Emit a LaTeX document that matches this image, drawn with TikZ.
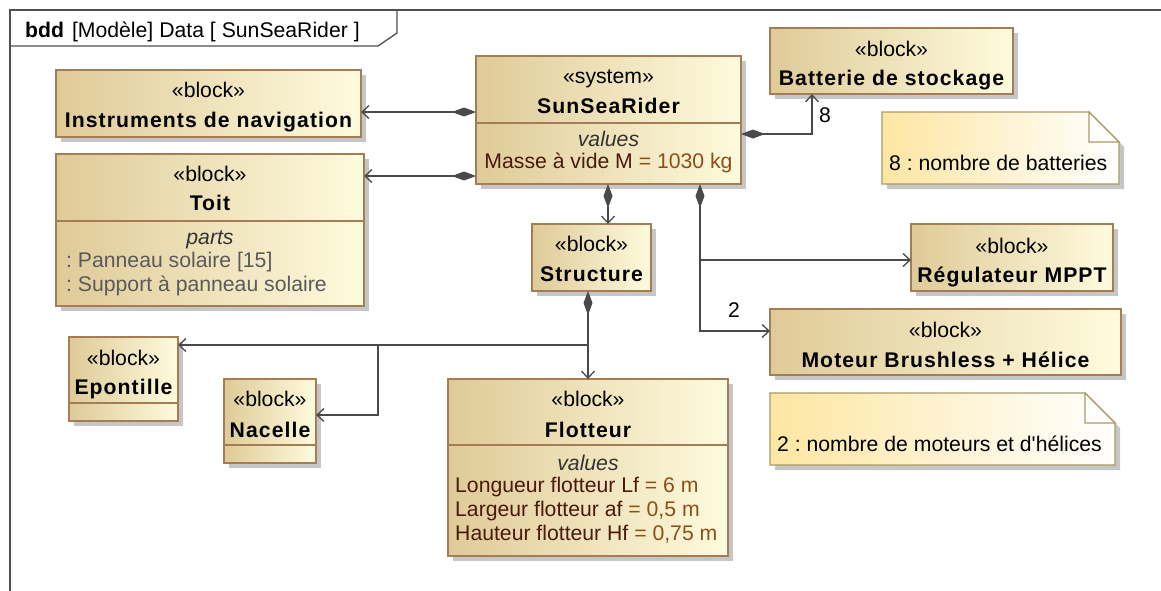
\documentclass[tikz,border=0pt]{standalone}
\usepackage{fontspec}
\setmainfont{Liberation Sans}
\newfontfamily\nmfont{Liberation Sans}[LetterSpace=5]
\usetikzlibrary{arrows.meta,shadows}
\definecolor{blkL}{HTML}{DFCA98}
\definecolor{blkR}{HTML}{FEFBDD}
\definecolor{blkB}{HTML}{A47C56}
\definecolor{noteL}{HTML}{FDE6A2}
\definecolor{noteB}{HTML}{A89A66}
\definecolor{lnC}{HTML}{4A4A4A}
\definecolor{frmC}{HTML}{505050}
\definecolor{valN}{HTML}{4A1A0C}
\definecolor{valV}{HTML}{8E4E16}
\definecolor{partC}{HTML}{5A5A5A}
\definecolor{shd}{HTML}{C6C6C6}
\frenchspacing
\begin{document}
\begin{tikzpicture}[x=1pt,y=-1pt,
  blk/.style={draw=blkB, line width=1.3pt, left color=blkL, right color=blkR,
    inner sep=0pt, outer sep=0pt, anchor=north west,
    drop shadow={shadow xshift=5pt, shadow yshift=-5pt, fill=shd, opacity=1}},
  sepl/.style={draw=blkB, line width=1.3pt},
  txt/.style={font=\fontsize{21.2}{25}\selectfont, inner sep=0pt, anchor=base},
  nm/.style={font=\fontsize{21.2}{25}\selectfont\nmfont\bfseries, inner sep=0pt, anchor=base},
  ital/.style={txt, font=\fontsize{21.2}{25}\selectfont\itshape, text=black!80},
  conn/.style={draw=lnC, line width=1.3pt},
  comp/.style={conn, {Diamond[length=24pt,width=9pt]}-{Straight Barb[length=7pt,width=13pt]}},
  diaonly/.style={conn, {Diamond[length=24pt,width=9pt]}-},
  arronly/.style={conn, -{Straight Barb[length=7pt,width=13pt]}},
  notestyle/.style={left color=noteL, right color=white, draw=noteB, line width=1.3pt}
]
\useasboundingbox (0,0) rectangle (1161,590);
\fill[white] (0,0) rectangle (1161,590);

% frame
\draw[frmC, line width=1.3pt] (10,592) -- (10,10) -- (1163,10);
\draw[frmC, line width=1.3pt] (10,46) -- (378,46) -- (397,33) -- (397,10);
\node[txt, anchor=base west] (title) at (25,37) {\textbf{bdd}\hspace{8pt}[Modèle]\hspace{6pt}Data [ SunSeaRider ]};

% blocks
\node[blk, minimum width=305pt, minimum height=67pt] (inst) at (56,70) {};
\node[txt] (inst-s) at (208.5,97) {«block»};
\node[nm] (inst-n) at (208.5,127) {Instruments de navigation};

\node[blk, minimum width=308pt, minimum height=152pt] (toit) at (56,154) {};
\draw[sepl] (toit.west |- 0,221) -- (toit.east |- 0,221);
\node[txt] (toit-s) at (210,181) {«block»};
\node[nm] (toit-n) at (210,210) {Toit};
\node[ital] (toit-p) at (210,244) {parts};
\node[txt, anchor=base west, text=partC] (toit-p1) at (66,267) {: Panneau solaire [15]};
\node[txt, anchor=base west, text=partC] (toit-p2) at (66,291) {: Support à panneau solaire};

\node[blk, minimum width=265pt, minimum height=128pt] (sun) at (476,56) {};
\draw[sepl] (sun.west |- 0,123) -- (sun.east |- 0,123);
\node[txt] (sun-s) at (608.5,83) {«system»};
\node[nm] (sun-n) at (608.5,113) {SunSeaRider};
\node[ital] (sun-v) at (608.5,146) {values};
\node[txt] (sun-v1) at (608.5,168) {\color{valN}Masse à vide M \color{valV}= 1030 kg};

\node[blk, minimum width=243pt, minimum height=66pt] (bat) at (770,28) {};
\node[txt] (bat-s) at (891.5,56) {«block»};
\node[nm] (bat-n) at (891.5,85) {Batterie de stockage};

\node[blk, minimum width=202pt, minimum height=67pt] (reg) at (911,224) {};
\node[txt] (reg-s) at (1012,253) {«block»};
\node[nm] (reg-n) at (1012,282) {Régulateur MPPT};

\node[blk, minimum width=119pt, minimum height=67pt] (struc) at (532,224) {};
\node[txt] (struc-s) at (591.5,251) {«block»};
\node[nm] (struc-n) at (591.5,281) {Structure};

\node[blk, minimum width=351pt, minimum height=66pt] (mot) at (770,309) {};
\node[txt] (mot-s) at (945.5,337) {«block»};
\node[nm] (mot-n) at (945.5,367) {Moteur Brushless + Hélice};

\node[blk, minimum width=109pt, minimum height=84pt] (epo) at (69,337) {};
\draw[sepl] (epo.west |- 0,403) -- (epo.east |- 0,403);
\node[txt] (epo-s) at (123.5,365) {«block»};
\node[nm] (epo-n) at (123.5,394) {Epontille};

\node[blk, minimum width=92pt, minimum height=84pt] (nac) at (224,379) {};
\draw[sepl] (nac.west |- 0,445) -- (nac.east |- 0,445);
\node[txt] (nac-s) at (270,406) {«block»};
\node[nm] (nac-n) at (270,437) {Nacelle};

\node[blk, minimum width=280pt, minimum height=177pt] (flot) at (448,379) {};
\draw[sepl] (flot.west |- 0,445) -- (flot.east |- 0,445);
\node[txt] (flot-s) at (588,406) {«block»};
\node[nm] (flot-n) at (588,437) {Flotteur};
\node[ital] (flot-v) at (588,470) {values};
\node[txt, anchor=base west] (flot-v1) at (455,492) {\color{valN}Longueur flotteur Lf \color{valV}= 6 m};
\node[txt, anchor=base west] (flot-v2) at (455,516) {\color{valN}Largeur flotteur af \color{valV}= 0,5 m};
\node[txt, anchor=base west] (flot-v3) at (455,540) {\color{valN}Hauteur flotteur Hf \color{valV}= 0,75 m};

% notes
\fill[shd, shift={(5,5)}] (882,112) -- (1089,112) -- (1119,142) -- (1119,184) -- (882,184) -- cycle;
\shade[notestyle] (882,112) -- (1089,112) -- (1119,142) -- (1119,184) -- (882,184) -- cycle;
\filldraw[fill=white, draw=noteB, line width=1.3pt] (1089,112) -- (1089,142) -- (1119,142) -- cycle;
\node[txt, anchor=base west] (note8) at (889,170) {8 : nombre de batteries};

\fill[shd, shift={(5,5)}] (770,393) -- (1085,393) -- (1115,423) -- (1115,465) -- (770,465) -- cycle;
\shade[notestyle] (770,393) -- (1085,393) -- (1115,423) -- (1115,465) -- (770,465) -- cycle;
\filldraw[fill=white, draw=noteB, line width=1.3pt] (1085,393) -- (1085,423) -- (1115,423) -- cycle;
\node[txt, anchor=base west] (note2) at (777,451) {2 : nombre de moteurs et d\textquotesingle hélices};

% connectors
\draw[comp] (sun.west |- 0,112) -- (inst.east |- 0,112);
\draw[comp] (sun.west |- 0,176) -- (toit.east |- 0,176);
\draw[comp] (sun.east |- 0,134) -- (812,134) -- (bat.south -| 812,0);
\node[txt, anchor=base west] (m8) at (819,122) {8};
\draw[comp] (sun.south -| 608,0) -- (struc.north -| 608,0);
\draw[diaonly] (sun.south -| 700,0) -- (700,260);
\draw[arronly] (700,259) -- (700,260) -- (reg.west |- 0,260);
\draw[arronly] (700,260) -- (700,331) -- (mot.west |- 0,331);
\node[txt, anchor=base west] (m2) at (728,317) {2};

\draw[comp] (struc.south -| 588,0) -- (flot.north -| 588,0);
\draw[arronly] (588,345) -- (epo.east |- 0,345);
\draw[arronly] (378,345) -- (378,415) -- (nac.east |- 0,415);
\end{tikzpicture}
\end{document}
